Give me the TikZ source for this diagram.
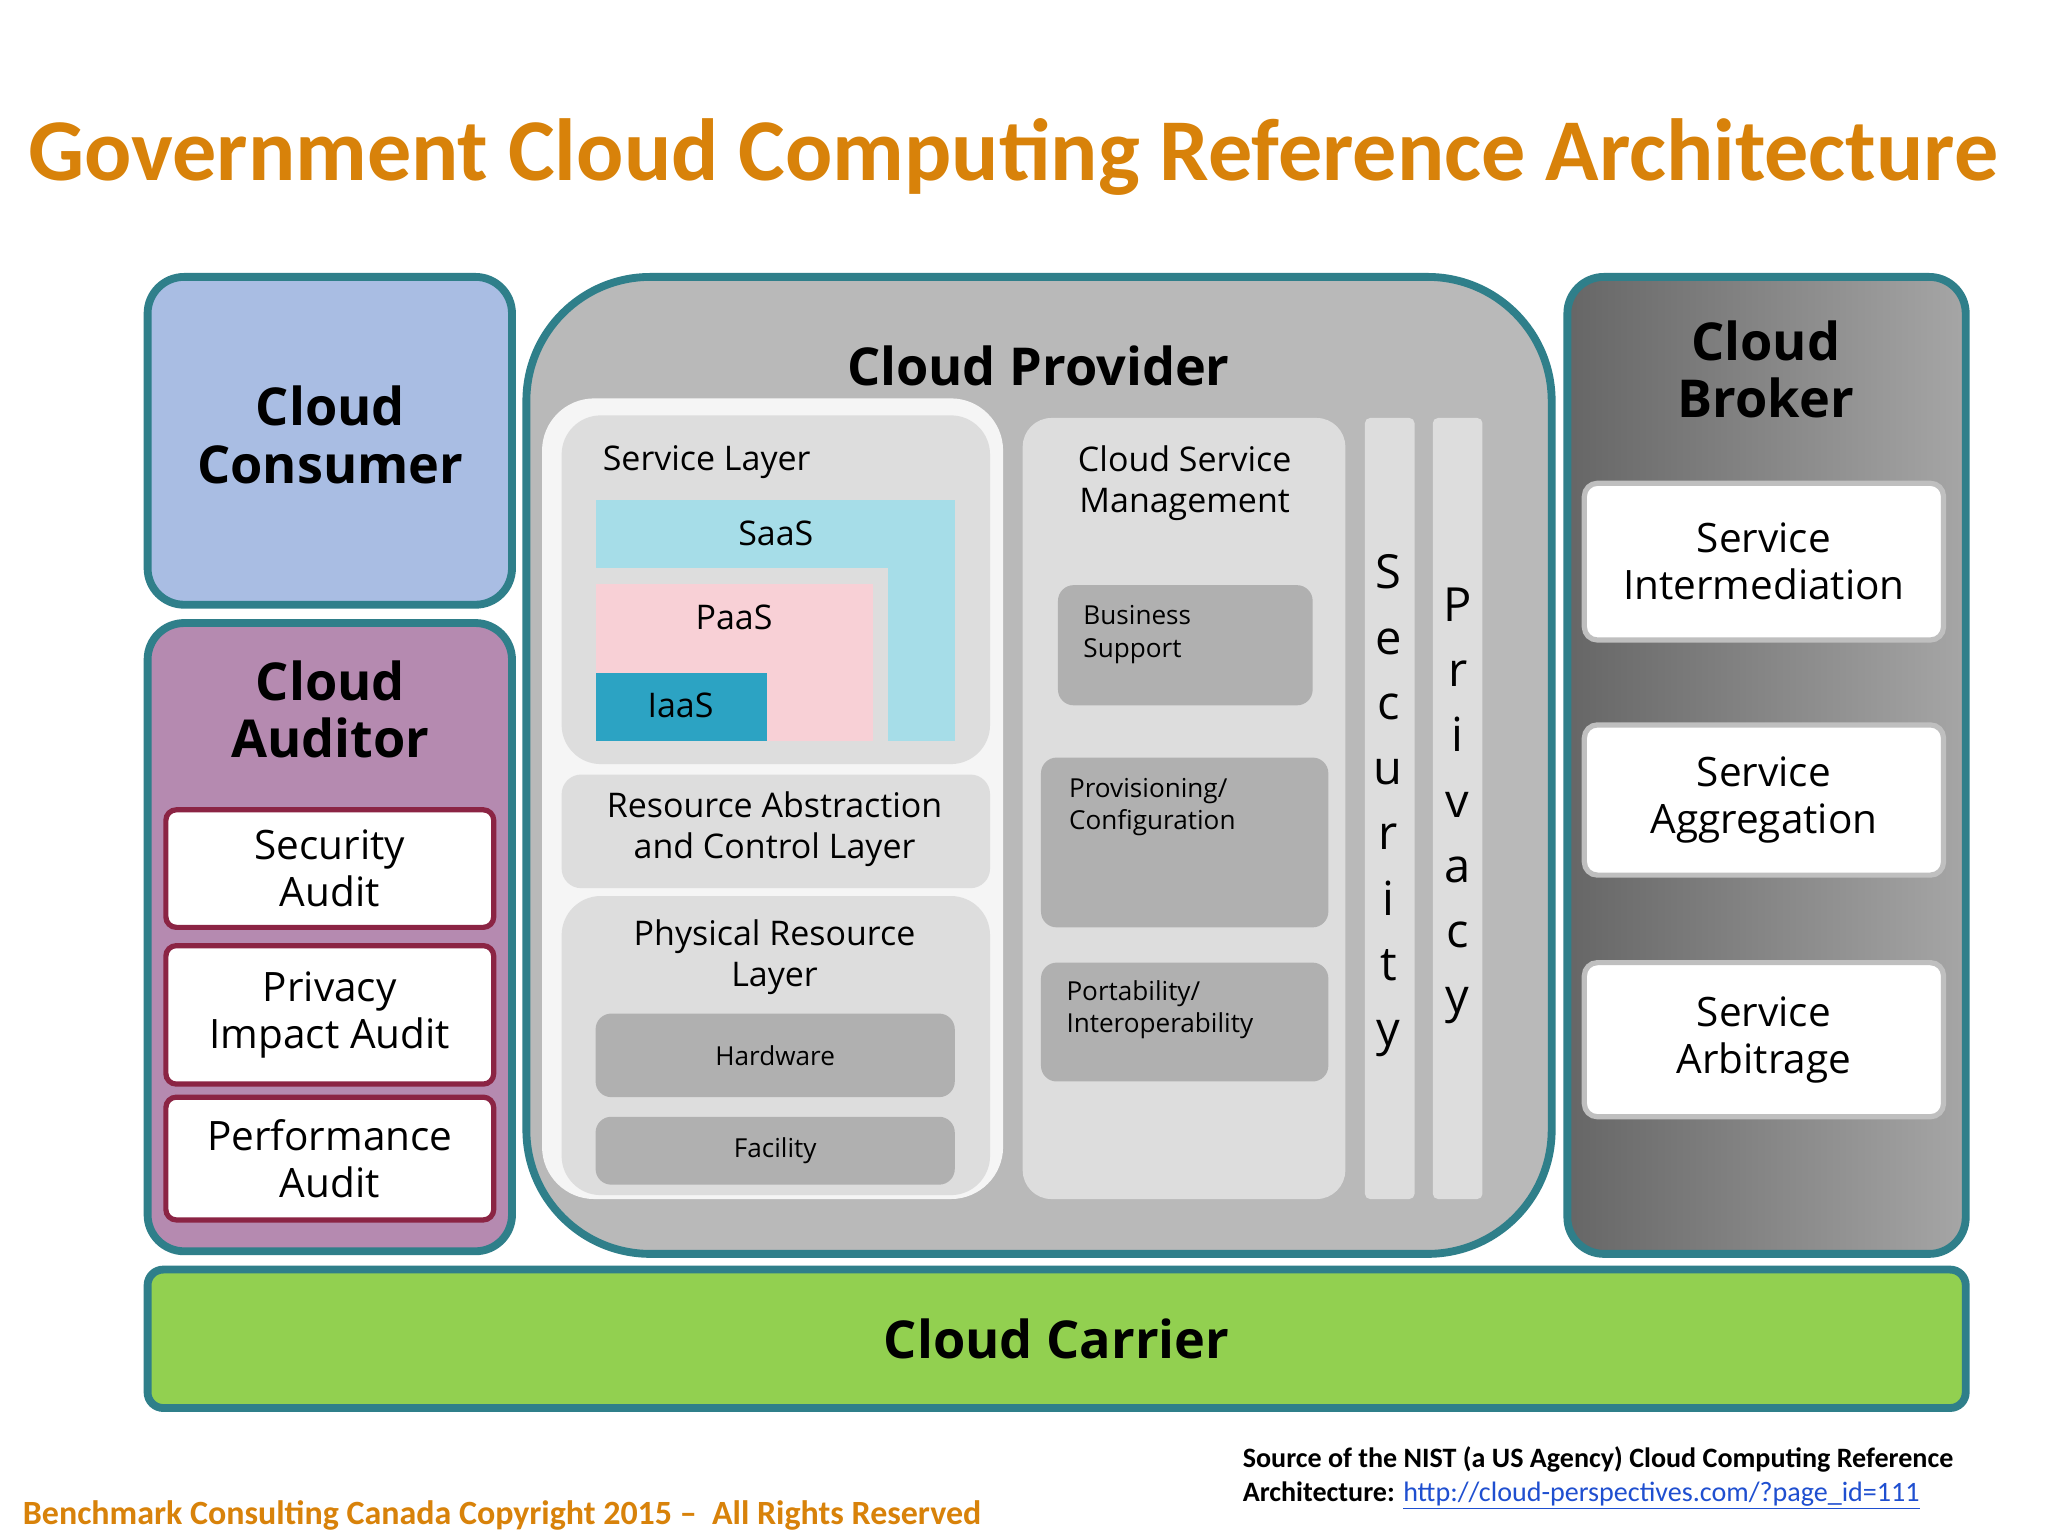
\documentclass[tikz,border=0pt]{standalone}
\usepackage{fontspec}
\setmainfont{Open Sans}
\newfontfamily\calfont{Carlito}
\definecolor{teal1}{HTML}{2F7F8A}
\definecolor{orng}{HTML}{D8820A}
\definecolor{cblue}{HTML}{A9BDE3}
\definecolor{mauve}{HTML}{B58AB0}
\definecolor{dred}{HTML}{8B2444}
\definecolor{pgray}{HTML}{B9B9B9}
\definecolor{lgray}{HTML}{DDDDDD}
\definecolor{mgray}{HTML}{B0B0B0}
\definecolor{saas}{HTML}{A6DDE8}
\definecolor{paas}{HTML}{F8D0D6}
\definecolor{iaas}{HTML}{2CA3C3}
\definecolor{grn}{HTML}{92D050}
\definecolor{lnk}{HTML}{1F4FD0}
\begin{document}
\begin{tikzpicture}[x=1pt,y=-1pt,
 outer/.style={draw=teal1,line width=6pt,rounded corners=28pt},
 wbox/.style={draw=dred,line width=4pt,fill=white,rounded corners=8pt},
 bwbox/.style={draw=lightgray,line width=4pt,fill=white,rounded corners=10pt},
 gbox/.style={fill=lgray,rounded corners=22pt},
 mbox/.style={fill=mgray,rounded corners=12pt},
 big/.style={font=\fontsize{40}{44}\selectfont\bfseries,align=center},
 mid/.style={font=\fontsize{31}{36}\selectfont,align=center},
 sm/.style={font=\fontsize{26}{31}\selectfont,align=center},
 xs/.style={font=\fontsize{20}{25}\selectfont,align=left}]
\useasboundingbox[fill=white] (0,0) rectangle (1568,1176);
\node[anchor=west,text=orng,font=\calfont\fontsize{67.5}{72}\selectfont\bfseries] (title) at (18,120) {Government Cloud Computing Reference Architecture};
% consumer
\draw[outer,fill=cblue] (113,212) rectangle (392,463);
\node[big] (cons) at (253,333) {Cloud\\Consumer};
% auditor
\draw[outer,fill=mauve] (113,477) rectangle (392,958);
\node[big] (aud) at (253,543) {Cloud\\Auditor};
\draw[wbox] (127,620) rectangle node[mid] (sa) {Security\\Audit} (378,710);
\draw[wbox] (127,724) rectangle node[mid] (pa) {Privacy\\Impact Audit} (378,830);
\draw[wbox] (127,840) rectangle node[mid] (pfa) {Performance\\Audit} (378,934);
% provider
\draw[draw=teal1,line width=6pt,fill=pgray,rounded corners=95pt] (403,212) rectangle (1188,960);
\node[big] (prov) at (795,280) {Cloud Provider};
\fill[white!92!gray,rounded corners=40pt] (415,305) rectangle (768,918);
\fill[lgray,rounded corners=30pt] (430,318) rectangle (758,585);
\node[sm,anchor=west] (sl) at (458,354) {Service Layer};
\fill[saas] (456,383) rectangle (731,435);
\fill[saas] (680,383) rectangle (731,567);
\fill[paas] (456,447) rectangle (668,567);
\fill[iaas] (456,515) rectangle (587,567);
\node[sm] (saasn) at (594,408) {SaaS};
\node[sm] (paasn) at (562,473) {PaaS};
\node[sm] (iaasn) at (521,540) {IaaS};
\fill[lgray,rounded corners=15pt] (430,593) rectangle (758,680);
\node[sm] (ra) at (593,635) {Resource Abstraction\\and Control Layer};
\fill[lgray,rounded corners=30pt] (430,686) rectangle (758,915);
\node[sm] (pr) at (593,733) {Physical Resource\\Layer};
\fill[mbox] (456,776) rectangle node[xs] (hw) {Hardware} (731,840);
\fill[mbox] (456,855) rectangle node[xs] (fac) {Facility} (731,907);
\fill[gbox] (783,320) rectangle (1030,918);
\node[sm] (csm) at (907,370) {Cloud Service\\Management};
\fill[mbox] (810,448) rectangle (1005,540);
\node[xs,anchor=north west] (bs) at (826,460) {Business\\Support};
\fill[mbox] (797,580) rectangle (1017,710);
\node[xs,anchor=north west] (pc) at (815,592) {Provisioning/\\Configuration};
\fill[mbox] (797,737) rectangle (1017,828);
\node[xs,anchor=north west] (po) at (813,747) {Portability/\\Interoperability};
\fill[lgray,rounded corners=4pt] (1045,320) rectangle (1083,918);
\fill[lgray,rounded corners=4pt] (1097,320) rectangle (1135,918);
\node[font=\fontsize{36}{50}\selectfont,align=center] (sec) at (1063,617) {S\\e\\c\\u\\r\\i\\t\\y};
\node[font=\fontsize{36}{50}\selectfont,align=center] (pri) at (1116,617) {P\\r\\i\\v\\a\\c\\y};
% broker
\draw[outer,left color=gray!80!black,right color=gray!70] (1200,212) rectangle (1505,960);
\node[big] (brk) at (1352,283) {Cloud\\Broker};
\draw[bwbox] (1213,370) rectangle node[mid] (si) {Service\\Intermediation} (1488,490);
\draw[bwbox] (1213,555) rectangle node[mid] (sag) {Service\\Aggregation} (1488,670);
\draw[bwbox] (1213,737) rectangle node[mid] (sar) {Service\\Arbitrage} (1488,855);
% carrier
\draw[draw=teal1,line width=6pt,fill=grn,rounded corners=12pt] (113,972) rectangle node[big] (car) {Cloud Carrier} (1505,1078);
% footer
\node[anchor=west,text=orng,font=\calfont\fontsize{26}{28}\selectfont\bfseries] (foot) at (14,1160) {Benchmark Consulting Canada Copyright 2015 –\ \ All Rights Reserved};
\node[anchor=north west,align=left,font=\calfont\fontsize{21.5}{26}\selectfont\bfseries] (src) at (948,1104) {Source of the NIST (a US Agency) Cloud Computing Reference\\Architecture: {\mdseries\color{lnk}\underline{http://cloud-perspectives.com/?page\_id=111}}};
\end{tikzpicture}
\end{document}
